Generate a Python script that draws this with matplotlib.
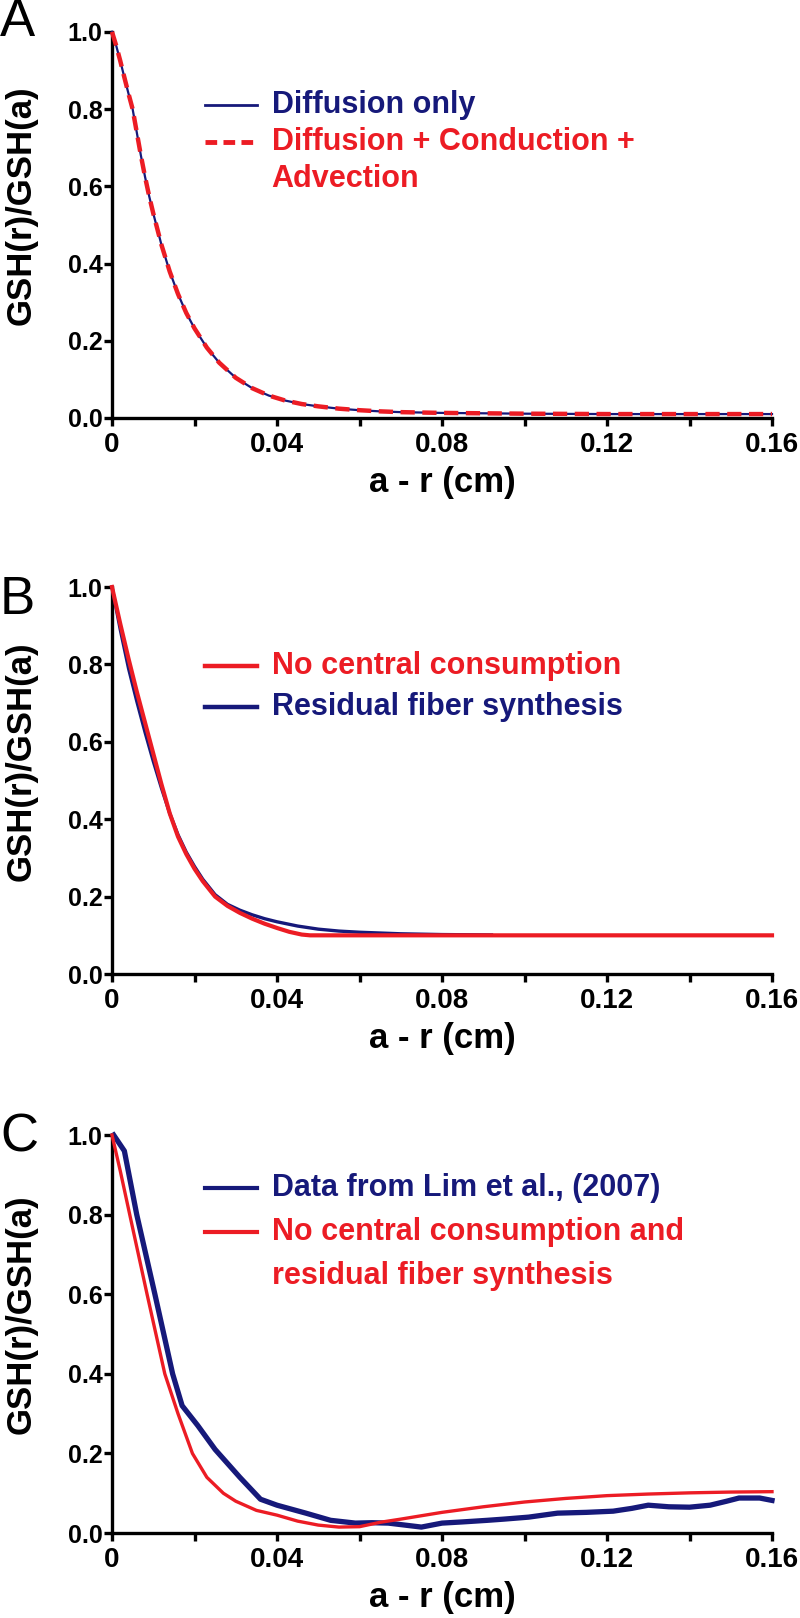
import matplotlib
matplotlib.use("Agg")
import matplotlib.pyplot as plt
import numpy as np

plt.rcParams['font.family'] = ['Liberation Sans', 'DejaVu Sans']

BLUE = '#16197a'
RED = '#ec1c24'

# ---- panel A : diffusion only vs diffusion + conduction + advection
a_x = [0, 0.001, 0.002, 0.003, 0.004, 0.005, 0.006, 0.007, 0.008, 0.009, 0.010,
       0.012, 0.014, 0.016, 0.018, 0.020, 0.023, 0.026, 0.030, 0.034, 0.038,
       0.042, 0.046, 0.050, 0.055, 0.060, 0.065, 0.070, 0.080, 0.090, 0.100,
       0.120, 0.140, 0.160]
a_diff_y = [1.0, 0.965, 0.925, 0.882, 0.84, 0.80, 0.74, 0.68, 0.625, 0.575, 0.53,
            0.448, 0.379, 0.321, 0.272, 0.232, 0.182, 0.143, 0.104, 0.077, 0.058,
            0.045, 0.036, 0.030, 0.024, 0.020, 0.017, 0.015, 0.013, 0.012, 0.011,
            0.010, 0.010, 0.010]
a_full_y = [1.0, 0.965, 0.925, 0.882, 0.84, 0.80, 0.74, 0.68, 0.625, 0.575, 0.53,
            0.448, 0.379, 0.321, 0.272, 0.232, 0.182, 0.143, 0.104, 0.077, 0.058,
            0.045, 0.036, 0.030, 0.024, 0.020, 0.017, 0.015, 0.013, 0.012, 0.011,
            0.010, 0.010, 0.010]

# ---- panel B
b_red_x = [0, 0.002, 0.004, 0.006, 0.008, 0.010, 0.012, 0.014, 0.016, 0.018, 0.020,
           0.022, 0.025, 0.028, 0.031, 0.034, 0.037, 0.040, 0.043, 0.046, 0.048,
           0.080, 0.120, 0.160]
b_red_y = [1.0, 0.905, 0.815, 0.73, 0.65, 0.57, 0.49, 0.415, 0.355, 0.31, 0.272,
           0.24, 0.2, 0.176, 0.158, 0.143, 0.13, 0.119, 0.109, 0.102, 0.1,
           0.1, 0.1, 0.1]
b_blue_x = [0, 0.002, 0.004, 0.006, 0.008, 0.010, 0.012, 0.014, 0.016, 0.018, 0.020,
            0.022, 0.025, 0.028, 0.031, 0.034, 0.037, 0.040, 0.045, 0.050, 0.055,
            0.060, 0.070, 0.080, 0.092]
b_blue_y = [1.0, 0.89, 0.79, 0.705, 0.625, 0.55, 0.48, 0.415, 0.36, 0.315, 0.278,
            0.245, 0.205, 0.18, 0.165, 0.153, 0.143, 0.135, 0.124, 0.116, 0.111,
            0.108, 0.104, 0.102, 0.101]

# ---- panel C
c_data_x = [0.0004, 0.003, 0.006, 0.0104, 0.0147, 0.017, 0.0208, 0.025, 0.031,
            0.036, 0.040, 0.047, 0.053, 0.059, 0.063, 0.067, 0.071, 0.075, 0.080,
            0.085, 0.088, 0.091, 0.095, 0.101, 0.108, 0.115, 0.1215, 0.126, 0.130,
            0.135, 0.140, 0.145, 0.149, 0.152, 0.157, 0.160]
c_data_y = [1.0, 0.96, 0.80, 0.60, 0.40, 0.32, 0.27, 0.21, 0.14,
            0.085, 0.07, 0.05, 0.032, 0.025, 0.026, 0.025, 0.02, 0.015, 0.025,
            0.028, 0.030, 0.032, 0.035, 0.04, 0.05, 0.052, 0.055, 0.062, 0.07,
            0.066, 0.065, 0.07, 0.08, 0.088, 0.088, 0.082]
c_model_x = [0, 0.002, 0.0043, 0.0085, 0.0128, 0.016, 0.0195, 0.023, 0.027, 0.030,
             0.035, 0.040, 0.045, 0.050, 0.055, 0.060, 0.065, 0.070, 0.080, 0.090,
             0.100, 0.110, 0.120, 0.130, 0.140, 0.150, 0.160]
c_model_y = [1.0, 0.91, 0.80, 0.60, 0.40, 0.30, 0.20, 0.14, 0.10, 0.08,
             0.057, 0.045, 0.03, 0.02, 0.015, 0.016, 0.027, 0.035, 0.052, 0.066,
             0.078, 0.087, 0.094, 0.098, 0.101, 0.103, 0.104]

x_ticks = [0, 0.04, 0.08, 0.12, 0.16]
x_tick_labels = ['0', '0.04', '0.08', '0.12', '0.16']
x_minor = [0.02, 0.06, 0.10, 0.14]
y_ticks = [0.0, 0.2, 0.4, 0.6, 0.8, 1.0]
y_tick_labels = ['0.0', '0.2', '0.4', '0.6', '0.8', '1.0']

fig = plt.figure(figsize=(8, 16.18), dpi=100)

def style_axes(ax, xlab_y):
    ax.set_xlim(0, 0.16)
    ax.set_ylim(0, 1.0)
    for s in ['top', 'right']:
        ax.spines[s].set_visible(False)
    for s in ['left', 'bottom']:
        ax.spines[s].set_linewidth(2.4)
    ax.set_xticks(x_ticks)
    ax.set_xticklabels(x_tick_labels, fontsize=20, fontweight='bold')
    ax.set_xticks(x_minor, minor=True)
    ax.set_yticks(y_ticks)
    ax.set_yticklabels(y_tick_labels, fontsize=18, fontweight='bold')
    ax.tick_params(axis='both', which='both', direction='out', length=6, width=2.4)
    ax.tick_params(axis='x', pad=4)
    ax.tick_params(axis='y', pad=1)
    ax.set_xlabel('a - r (cm)', fontsize=25, fontweight='bold')
    ax.set_ylabel('GSH(r)/GSH(a)', fontsize=25, fontweight='bold')
    ax.xaxis.set_label_coords(0.5, xlab_y)
    ax.yaxis.set_label_coords(-0.112, 0.55)

def legend_row(ax, y, text, color, ls='-', lw=3):
    ax.plot([0.141, 0.22], [y, y], transform=ax.transAxes, color=color,
            lw=lw, ls=ls, clip_on=False)
    ax.text(0.242, y, text, transform=ax.transAxes, color=color, fontsize=22,
            fontweight='bold', va='center', ha='left')

# panel A
axA = fig.add_axes([0.14, 0.7417, 0.825, 0.2386])
axA.plot(a_x, a_diff_y, color=BLUE, lw=1.6, clip_on=False, zorder=3)
axA.plot(a_x, a_full_y, color=RED, lw=3.2, dashes=(3.2, 1.7), clip_on=False, zorder=4)
style_axes(axA, -0.125)
legend_row(axA, 0.81, 'Diffusion only', BLUE, lw=2)
axA.plot([0.141, 0.22], [0.715, 0.715], transform=axA.transAxes, color=RED,
         lw=3.5, dashes=(2.4, 1.3), clip_on=False)
axA.text(0.242, 0.715, 'Diffusion + Conduction +', transform=axA.transAxes,
         color=RED, fontsize=22, fontweight='bold', va='center')
axA.text(0.242, 0.62, 'Advection', transform=axA.transAxes,
         color=RED, fontsize=22, fontweight='bold', va='center')

# panel B
axB = fig.add_axes([0.14, 0.398, 0.825, 0.2392])
axB.plot(b_blue_x, b_blue_y, color=BLUE, lw=2.4, clip_on=False, zorder=3)
axB.plot(b_red_x, b_red_y, color=RED, lw=3.0, clip_on=False, zorder=4)
style_axes(axB, -0.125)
legend_row(axB, 0.797, 'No central consumption', RED, lw=3.2)
legend_row(axB, 0.69, 'Residual fiber synthesis', BLUE, lw=3.2)

# panel C
axC = fig.add_axes([0.14, 0.0525, 0.825, 0.246])
axC.plot(c_data_x, c_data_y, color=BLUE, lw=3.8, clip_on=False, zorder=3)
axC.plot(c_model_x, c_model_y, color=RED, lw=2.4, clip_on=False, zorder=4)
style_axes(axC, -0.12)
legend_row(axC, 0.866, 'Data from Lim et al., (2007)', BLUE, lw=3)
legend_row(axC, 0.756, 'No central consumption and', RED, lw=3)
axC.text(0.242, 0.647, 'residual fiber synthesis', transform=axC.transAxes,
         color=RED, fontsize=22, fontweight='bold', va='center')

# panel letters
fig.text(0.0, 1 - 22 / 1618, 'A', fontsize=38, va='center', ha='left')
fig.text(0.0, 1 - 600 / 1618, 'B', fontsize=38, va='center', ha='left')
fig.text(0.0, 1 - 1138 / 1618, 'C', fontsize=38, va='center', ha='left')

fig.savefig('out.png', dpi=100)
